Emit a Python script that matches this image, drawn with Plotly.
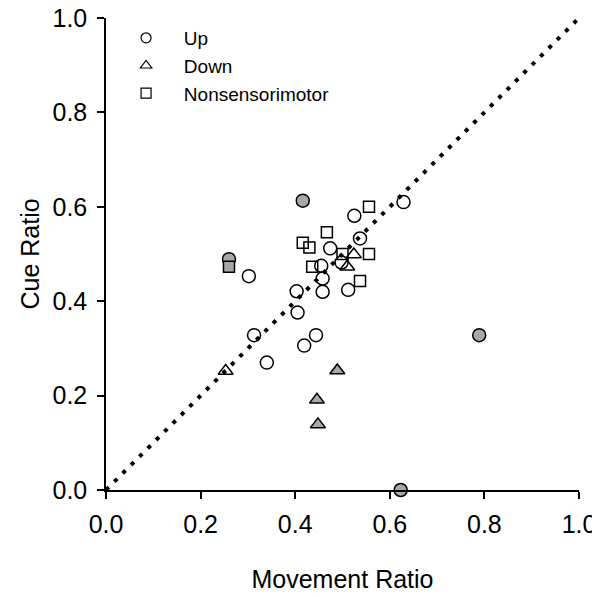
import plotly.graph_objects as go

# Movement ratio (x) vs cue ratio (y)
up_open_x = [0.629, 0.525, 0.537, 0.474, 0.455, 0.498, 0.458, 0.302, 0.403, 0.458, 0.512, 0.405, 0.313, 0.444, 0.419, 0.340]
up_open_y = [0.610, 0.581, 0.533, 0.512, 0.475, 0.482, 0.448, 0.453, 0.421, 0.420, 0.424, 0.376, 0.328, 0.328, 0.306, 0.270]
up_fill_x = [0.416, 0.260, 0.789, 0.623]
up_fill_y = [0.613, 0.489, 0.328, 0.000]

down_open_x = [0.524, 0.510, 0.253]
down_open_y = [0.499, 0.473, 0.252]
down_fill_x = [0.489, 0.446, 0.448]
down_fill_y = [0.253, 0.191, 0.139]

ns_open_x = [0.556, 0.467, 0.416, 0.430, 0.500, 0.556, 0.436, 0.537]
ns_open_y = [0.600, 0.546, 0.524, 0.514, 0.500, 0.500, 0.473, 0.443]
ns_fill_x = [0.260]
ns_fill_y = [0.473]

legend_names = ["Up", "Down", "Nonsensorimotor"]
legend_symbols = ["circle-open", "triangle-up-open", "square-open"]

GRAY = "#a8a8a8"
FONT = "Liberation Sans, Arial, sans-serif"

fig = go.Figure()

# identity line
fig.add_trace(go.Scatter(x=[0, 1], y=[0, 1], mode="lines",
                         line=dict(color="black", width=4, dash="4px,7.8px"),
                         showlegend=False, hoverinfo="skip"))

def add_points(xs, ys, symbol, size, fill):
    fig.add_trace(go.Scatter(
        x=xs, y=ys, mode="markers", showlegend=False, cliponaxis=False,
        marker=dict(symbol=symbol, size=size, color=fill,
                    line=dict(color="black", width=1.5))))

add_points(up_open_x, up_open_y, "circle", 13, "rgba(0,0,0,0)")
add_points(up_fill_x, up_fill_y, "circle", 13, GRAY)
add_points(down_open_x, down_open_y, "triangle-up", 13, "rgba(0,0,0,0)")
add_points(down_fill_x, down_fill_y, "triangle-up", 13, GRAY)
add_points(ns_open_x, ns_open_y, "square", 11, "rgba(0,0,0,0)")
add_points(ns_fill_x, ns_fill_y, "square", 11, GRAY)

# legend entries with smaller symbols (nbsp widens the symbol-text gap)
for name, sym in zip(legend_names, legend_symbols):
    fig.add_trace(go.Scatter(x=[None], y=[None], mode="markers", name="\u00a0" + name,
                             marker=dict(symbol=sym, size=10, color="black",
                                         line=dict(width=1.2))))

axis_common = dict(range=[0, 1], dtick=0.2, tickformat=".1f",
                   showline=True, linecolor="black", linewidth=1.5,
                   ticks="outside", ticklen=7, tickwidth=1.5, tickcolor="black",
                   showgrid=False, zeroline=False, ticklabeloverflow="allow",
                   tickfont=dict(family=FONT, size=25, color="black"))

# page has an 8px body margin, so the figure is a bit smaller than the window
fig.update_layout(
    width=592, height=589,
    margin=dict(l=98, r=21, t=10, b=107, autoexpand=False),
    plot_bgcolor="white", paper_bgcolor="white",
    xaxis=dict(axis_common, ticklabelstandoff=4,
               title=dict(text="Movement Ratio", standoff=34,
                          font=dict(family=FONT, size=25, color="black"))),
    yaxis=dict(axis_common, ticklabelstandoff=5,
               title=dict(text="Cue Ratio", standoff=6,
                          font=dict(family=FONT, size=25, color="black"))),
    legend=dict(x=0.016, y=0.998, xanchor="left", yanchor="top",
                bgcolor="rgba(0,0,0,0)", itemsizing="trace", itemwidth=55,
                font=dict(family=FONT, size=19, color="black")),
)

fig.write_html("out.html")
